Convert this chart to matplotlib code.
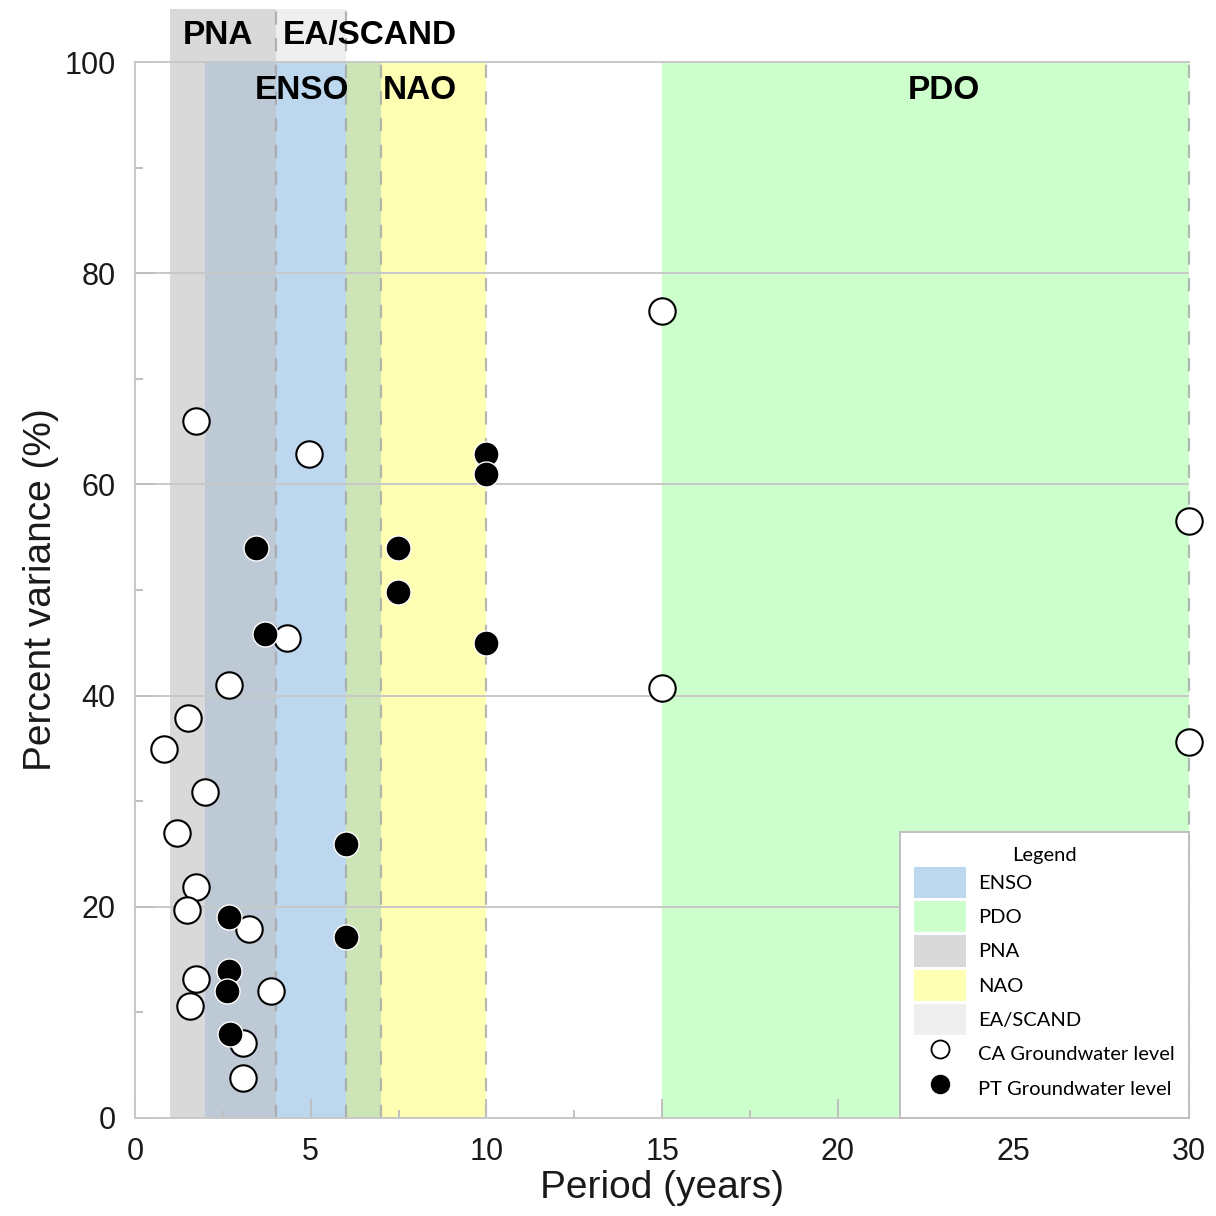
import matplotlib
matplotlib.use("Agg")
import matplotlib.pyplot as plt
from matplotlib.patches import Patch
from matplotlib.lines import Line2D

# Climate-mode period bands (years) and their colours
band_names = ["ENSO", "PDO", "PNA", "NAO", "EA/SCAND"]
band_start = [2, 15, 1, 6, 4]
band_end = [7, 30, 4, 10, 6]
band_top = [100, 100, 105, 100, 105]
band_colors = ["#bdd7ee", "#ccffcc", "#d9d9d9", "#ffffb3", "#efefef"]
draw_order = ["PNA", "EA/SCAND", "ENSO", "NAO", "PDO"]

# Blended colours where two bands share the same periods
overlap_pairs = [("PNA", "ENSO"), ("ENSO", "NAO")]
overlap_colors = ["#bec9d6", "#cde4b7"]

# Band boundaries drawn as dashed lines: (x, top)
dashed_edges_x = [4, 6, 7, 10, 30]
dashed_edges_top = [105, 105, 100, 100, 100]

# CA groundwater level: period (years), percent variance
ca_period = [1.74, 4.96, 15.0, 30.0, 4.34, 2.67, 1.52, 0.83, 1.99, 1.21,
             1.74, 1.47, 3.25, 1.74, 1.57, 3.87, 3.08, 3.08, 15.0, 30.0]
ca_variance = [66.0, 62.9, 76.4, 56.5, 45.5, 41.0, 37.9, 34.9, 30.9, 27.0,
               21.9, 19.7, 17.9, 13.2, 10.6, 12.0, 7.1, 3.8, 40.7, 35.6]

# PT groundwater level: period (years), percent variance
pt_period = [3.44, 7.48, 7.48, 3.70, 10.0, 10.0, 10.0, 6.0, 6.0, 2.67, 2.67, 2.61, 2.70]
pt_variance = [54.0, 54.0, 49.8, 45.8, 62.9, 61.0, 45.0, 25.9, 17.1, 19.0, 13.9, 12.0, 8.0]

# Band labels: name, left x, centre y
label_names = ["PNA", "EA/SCAND", "ENSO", "NAO", "PDO"]
label_x = [1.37, 4.21, 3.42, 7.06, 21.98]
label_y = [102.5, 102.5, 97.3, 97.3, 97.3]

x_ticks = [0, 5, 10, 15, 20, 25, 30]
y_ticks = [0, 20, 40, 60, 80, 100]

plt.rcParams["font.family"] = ["Liberation Sans", "DejaVu Sans"]

fig = plt.figure(figsize=(12.16, 12.16), dpi=100)
ax = fig.add_axes([0.111, 0.0806, 0.867, 0.8684])
ax.set_xlim(0, 30)
ax.set_ylim(0, 100)

band = {n: (s, e, t, c) for n, s, e, t, c in
        zip(band_names, band_start, band_end, band_top, band_colors)}

for n in draw_order:
    s, e, t, c = band[n]
    ax.fill_between([s, e], 0, t, color=c, lw=0, zorder=0.1, clip_on=False)

for (a, b), c in zip(overlap_pairs, overlap_colors):
    s = max(band[a][0], band[b][0])
    e = min(band[a][1], band[b][1])
    t = min(band[a][2], band[b][2])
    ax.fill_between([s, e], 0, t, color=c, lw=0, zorder=0.2)

for x, t in zip(dashed_edges_x, dashed_edges_top):
    ax.plot([x, x], [0, t], color="#a6a6a6", lw=1.6, ls=(0, (6, 6)),
            alpha=0.8, zorder=0.3, clip_on=False)

# Grid and axes styling
ax.set_axisbelow(True)
ax.yaxis.grid(True, color="#c8c8c8", lw=1.4)
ax.set_xticks(x_ticks)
ax.set_yticks(y_ticks)
ax.set_xticks([2.5 + 5 * i for i in range(6)], minor=True)
ax.set_yticks([10 + 20 * i for i in range(5)], minor=True)
ax.tick_params(which="both", direction="in", color="#bfbfbf", width=1.4,
               labelsize=22, labelcolor="#1a1a1a", pad=14)
ax.tick_params(which="major", length=14)
ax.tick_params(which="minor", length=6)
for side in ["left", "bottom", "top"]:
    ax.spines[side].set_color("#c8c8c8")
    ax.spines[side].set_linewidth(1.4)
ax.spines["right"].set_visible(False)

# Data points
ax.plot(ca_period, ca_variance, ls="none", marker="o", ms=19,
        mfc="white", mec="black", mew=1.5, zorder=3, clip_on=False)
ax.plot(pt_period, pt_variance, ls="none", marker="o", ms=18,
        mfc="black", mec="white", mew=1.0, zorder=4, clip_on=False)

for n, x, y in zip(label_names, label_x, label_y):
    ax.text(x, y, n, ha="left", va="center", fontsize=24, fontweight="bold",
            color="black", zorder=5, clip_on=False)

ax.set_xlabel("Period (years)", fontsize=28, color="#1a1a1a", labelpad=2)
ax.set_ylabel("Percent variance (%)", fontsize=28, color="#1a1a1a", labelpad=4)

# Legend
handles = [Patch(facecolor=band[n][3], edgecolor="none") for n in band_names]
handles.append(Line2D([], [], ls="none", marker="o", ms=13, mfc="white",
                      mec="black", mew=1.3))
handles.append(Line2D([], [], ls="none", marker="o", ms=13, mfc="black",
                      mec="black"))
labels = band_names + ["CA Groundwater level", "PT Groundwater level"]
leg = ax.legend(handles, labels, loc="lower right", bbox_to_anchor=(1.0, 0.0),
                borderaxespad=0.0, title="Legend", fancybox=False,
                framealpha=1.0, edgecolor="#bfbfbf",
                prop={"family": "Lato", "size": 14.5},
                title_fontproperties={"family": "Lato", "size": 14.5},
                handlelength=2.6, handleheight=2.0, labelspacing=0.16,
                handletextpad=0.6, borderpad=0.7)
leg.get_frame().set_linewidth(1.4)
leg.set_zorder(6)

fig.savefig("out.png", dpi=100)
